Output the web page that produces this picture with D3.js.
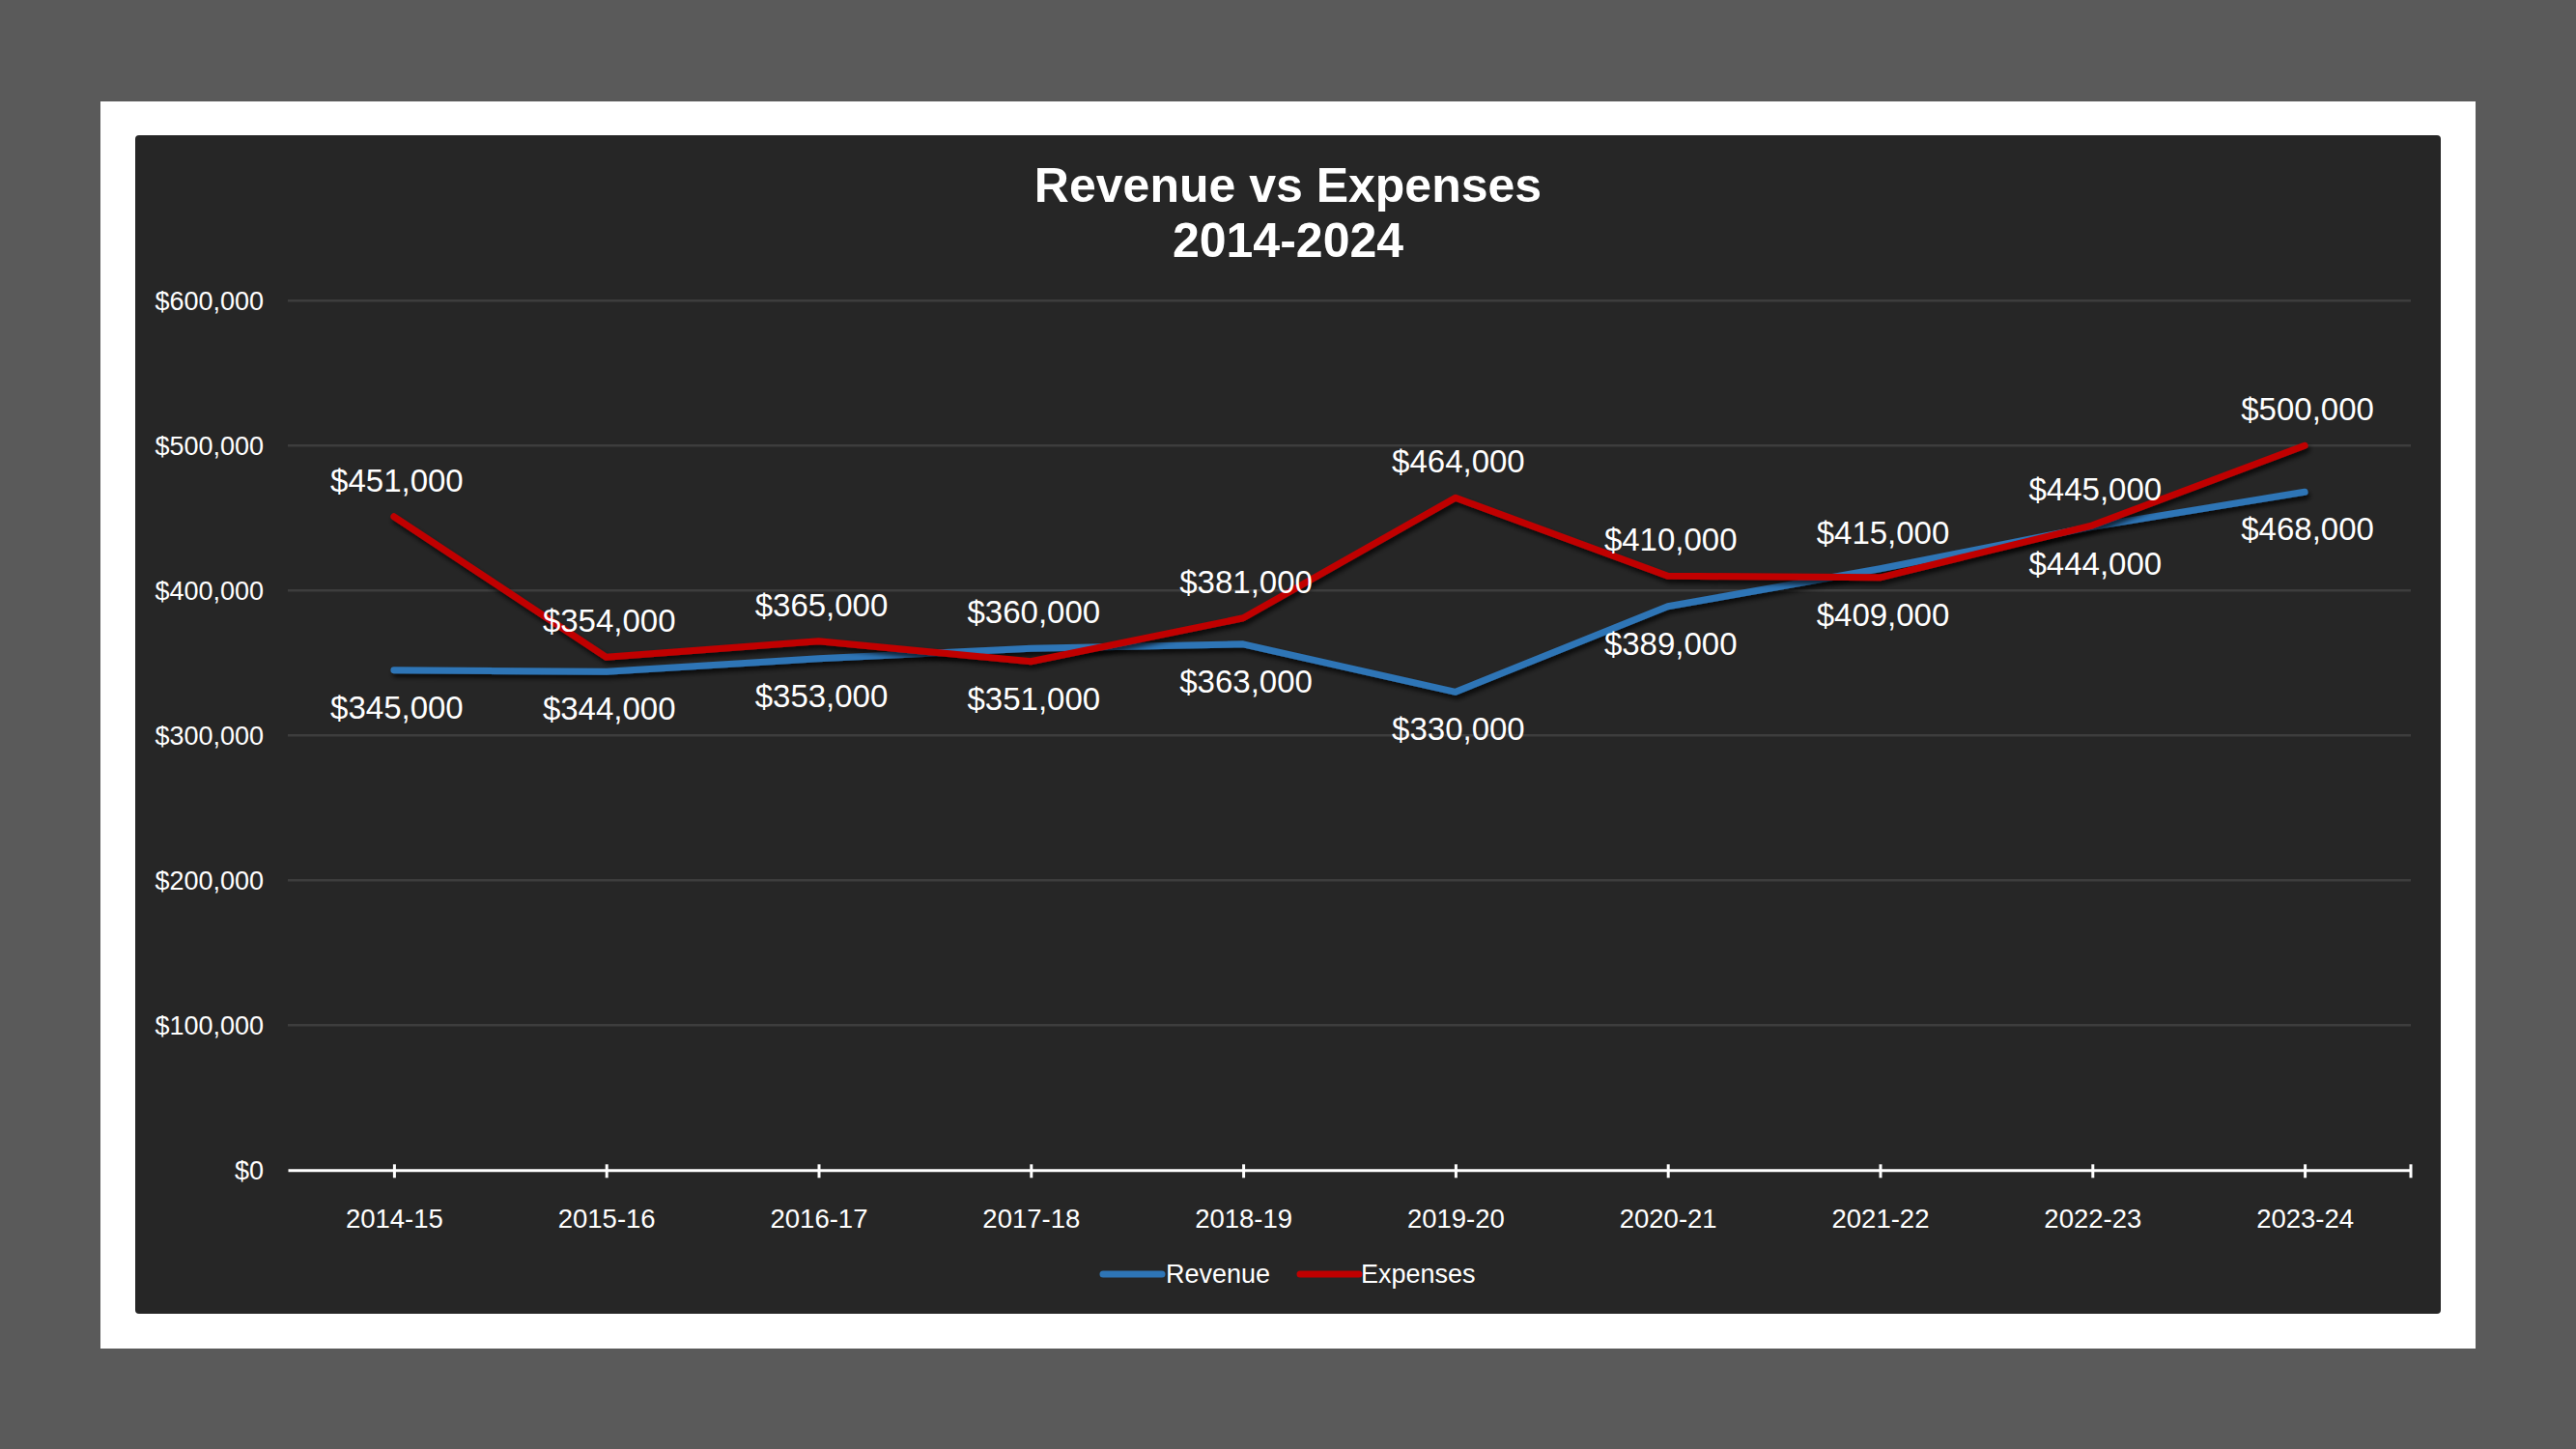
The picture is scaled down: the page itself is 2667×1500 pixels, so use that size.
<!DOCTYPE html>
<html>
<head>
<meta charset="utf-8">
<script src="https://cdn.jsdelivr.net/npm/d3@7"></script>
<style>
  html, body { margin: 0; padding: 0; background: #5a5a5a; }
  svg { display: block; font-family: "Liberation Sans", Arial, sans-serif; }
</style>
</head>
<body>
<svg id="chart" width="2667" height="1500"></svg>
<script>
const categories = ["2014-15","2015-16","2016-17","2017-18","2018-19","2019-20","2020-21","2021-22","2022-23","2023-24"];
const revenue  = [345000, 344000, 353000, 360000, 363000, 330000, 389000, 415000, 444000, 468000];
const expenses = [451000, 354000, 365000, 351000, 381000, 464000, 410000, 409000, 445000, 500000];
const yTicks = [0, 100000, 200000, 300000, 400000, 500000, 600000];
const titleLines = ["Revenue vs Expenses", "2014-2024"];
const seriesNames = ["Revenue", "Expenses"];
const seriesColors = ["#2E75B6", "#C00000"];

const svg = d3.select("#chart");
const W = 2667, H = 1500;

svg.append("rect").attr("width", W).attr("height", H).attr("fill", "#5a5a5a");
svg.append("rect").attr("x", 104).attr("y", 105).attr("width", 2563 - 104).attr("height", 1396 - 105).attr("fill", "#ffffff");
svg.append("rect").attr("x", 140).attr("y", 140).attr("width", 2527 - 140).attr("height", 1360 - 140).attr("rx", 4).attr("fill", "#262626");

const defs = svg.append("defs");
const f = defs.append("filter").attr("id", "shadow").attr("x", "-10%").attr("y", "-10%").attr("width", "120%").attr("height", "130%");
f.append("feDropShadow").attr("dx", 2).attr("dy", 4).attr("stdDeviation", 2.5).attr("flood-color", "#000").attr("flood-opacity", 0.75);

const x = d3.scalePoint().domain(categories).range([298, 2496]).padding(0.5);
const y = d3.scaleLinear().domain([0, 600000]).range([1211.3, 311.3]);
const fmt = d3.format("$,");

// title
const title = svg.append("text").attr("x", 1333.5).attr("text-anchor", "middle")
  .attr("fill", "#ffffff").attr("font-weight", "bold").attr("font-size", 50);
titleLines.forEach((t, i) => {
  title.append("tspan").attr("x", 1333.5).attr("y", i === 0 ? 209 : 266).text(t);
});

// gridlines
svg.append("g").selectAll("line").data(yTicks.filter(d => d > 0)).join("line")
  .attr("x1", 298).attr("x2", 2496)
  .attr("y1", d => y(d)).attr("y2", d => y(d))
  .attr("stroke", "#3d3d3d").attr("stroke-width", 2.5);

// y axis labels
const yAxis = d3.axisLeft(y).tickValues(yTicks).tickFormat(fmt).tickSize(0).tickPadding(0);
const yg = svg.append("g").attr("transform", "translate(273,0)").call(yAxis);
yg.select(".domain").remove();
yg.selectAll("text").attr("fill", "#ffffff").attr("font-size", 27)
  .attr("font-family", "Liberation Sans, Arial, sans-serif").attr("dy", "0.33em");

// x axis
const xAxis = d3.axisBottom(x).tickSizeOuter(0).tickSizeInner(8).tickPadding(0);
const xg = svg.append("g").attr("transform", `translate(0,${y(0)})`).call(xAxis);
xg.select(".domain").attr("stroke", "#ffffff").attr("stroke-width", 3);
xg.selectAll(".tick line").attr("stroke", "#ffffff").attr("stroke-width", 3).attr("y1", -6).attr("y2", 8);
xg.selectAll(".tick text").attr("fill", "#ffffff").attr("font-size", 27.5)
  .attr("font-family", "Liberation Sans, Arial, sans-serif").attr("dy", 0).attr("y", 60);
xg.append("line").attr("x1", x.range()[1]).attr("x2", x.range()[1]).attr("y1", -6).attr("y2", 8)
  .attr("stroke", "#ffffff").attr("stroke-width", 3);

// lines
const series = [revenue, expenses];
const line = d3.line().x((d, i) => x(categories[i])).y(d => y(d));
series.forEach((vals, s) => {
  svg.append("path").datum(vals).attr("d", line)
    .attr("fill", "none").attr("stroke", seriesColors[s]).attr("stroke-width", 7)
    .attr("stroke-linecap", "round").attr("stroke-linejoin", "round")
    .attr("filter", "url(#shadow)");
});

// data labels: higher value of the pair above, lower below
series.forEach((vals, s) => {
  const other = series[1 - s];
  svg.append("g").selectAll("text").data(vals).join("text")
    .attr("x", (d, i) => x(categories[i]) + 3)
    .attr("y", (d, i) => (d >= other[i] ? y(d) - 26 : y(d) + 50))
    .attr("text-anchor", "middle").attr("fill", "#ffffff").attr("font-size", 33)
    .text(d => fmt(d));
});

// legend
const legendItems = [
  { x1: 1142, x2: 1203, tx: 1207 },
  { x1: 1346, x2: 1407, tx: 1409 }
];
legendItems.forEach((L, i) => {
  svg.append("line").attr("x1", L.x1).attr("x2", L.x2).attr("y1", 1319).attr("y2", 1319)
    .attr("stroke", seriesColors[i]).attr("stroke-width", 7).attr("stroke-linecap", "round");
  svg.append("text").attr("x", L.tx).attr("y", 1328).attr("fill", "#ffffff").attr("font-size", 27)
    .text(seriesNames[i]);
});
</script>
</body>
</html>
